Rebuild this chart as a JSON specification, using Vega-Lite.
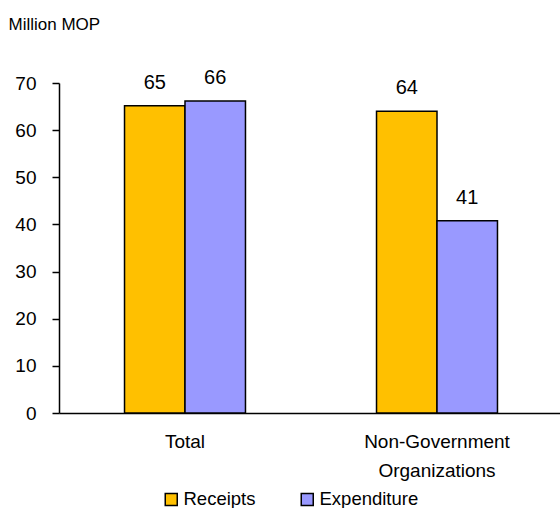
{
  "$schema": "https://vega.github.io/schema/vega-lite/v6.json",
  "width": 504,
  "height": 330,
  "autosize": {"type": "none"},
  "padding": {"left": 59, "top": 83, "right": 0, "bottom": 95},
  "background": "white",
  "config": {
    "view": {"stroke": null},
    "font": "Liberation Sans, Arial",
    "axis": {"labelColor": "black", "labelFont": "Liberation Sans, Arial"},
    "legend": {"labelFont": "Liberation Sans, Arial"}
  },
  "data": {
    "values": [
      {"category": "Total", "series": "Receipts", "value": 65.2},
      {"category": "Total", "series": "Expenditure", "value": 66.2},
      {"category": "Non-Government Organizations", "series": "Receipts", "value": 64.0},
      {"category": "Non-Government Organizations", "series": "Expenditure", "value": 40.8}
    ]
  },
  "encoding": {
    "x": {
      "field": "category",
      "type": "nominal",
      "sort": ["Total", "Non-Government Organizations"],
      "scale": {"paddingInner": 0.52, "paddingOuter": 0.26},
      "axis": {
        "title": null,
        "labelAngle": 0,
        "labelFontSize": 19,
        "labelLineHeight": 29,
        "labelPadding": 19,
        "labelExpr": "split(datum.label, ' ')",
        "ticks": false,
        "domainColor": "black",
        "domainWidth": 1.5,
        "grid": false
      }
    },
    "xOffset": {"field": "series", "type": "nominal", "sort": ["Receipts", "Expenditure"]},
    "y": {
      "field": "value",
      "type": "quantitative",
      "scale": {"domain": [0, 70], "nice": false},
      "axis": {
        "values": [0, 10, 20, 30, 40, 50, 60, 70],
        "grid": false,
        "domainColor": "black",
        "domainWidth": 1.5,
        "tickColor": "black",
        "tickWidth": 1.5,
        "tickSize": 7,
        "labelPadding": 16,
        "labelFontSize": 19,
        "title": "Million MOP",
        "titleAngle": 0,
        "titleAlign": "left",
        "titleBaseline": "alphabetic",
        "titleX": -51,
        "titleY": -54,
        "titleFontSize": 17,
        "titleFontWeight": "normal",
        "titleColor": "black",
        "titleFont": "Liberation Sans, Arial"
      }
    }
  },
  "layer": [
    {
      "mark": {"type": "bar", "stroke": "black", "strokeWidth": 1.5},
      "encoding": {
        "color": {
          "field": "series",
          "type": "nominal",
          "sort": ["Receipts", "Expenditure"],
          "scale": {"domain": ["Receipts", "Expenditure"], "range": ["#FFC000", "#9999FF"]},
          "legend": {
            "title": null,
            "orient": "none",
            "direction": "horizontal",
            "legendX": 103,
            "legendY": 407,
            "padding": 0,
            "symbolType": "square",
            "symbolSize": 144,
            "symbolStrokeColor": "black",
            "symbolStrokeWidth": 1.5,
            "symbolOpacity": 1,
            "labelFontSize": 18.5,
            "labelColor": "black",
            "labelOffset": 3,
            "columnPadding": 42
          }
        }
      }
    },
    {
      "mark": {"type": "text", "baseline": "alphabetic", "dy": -17, "fontSize": 20, "color": "black"},
      "encoding": {
        "text": {"field": "value", "type": "quantitative", "format": ".0f"}
      }
    }
  ]
}
